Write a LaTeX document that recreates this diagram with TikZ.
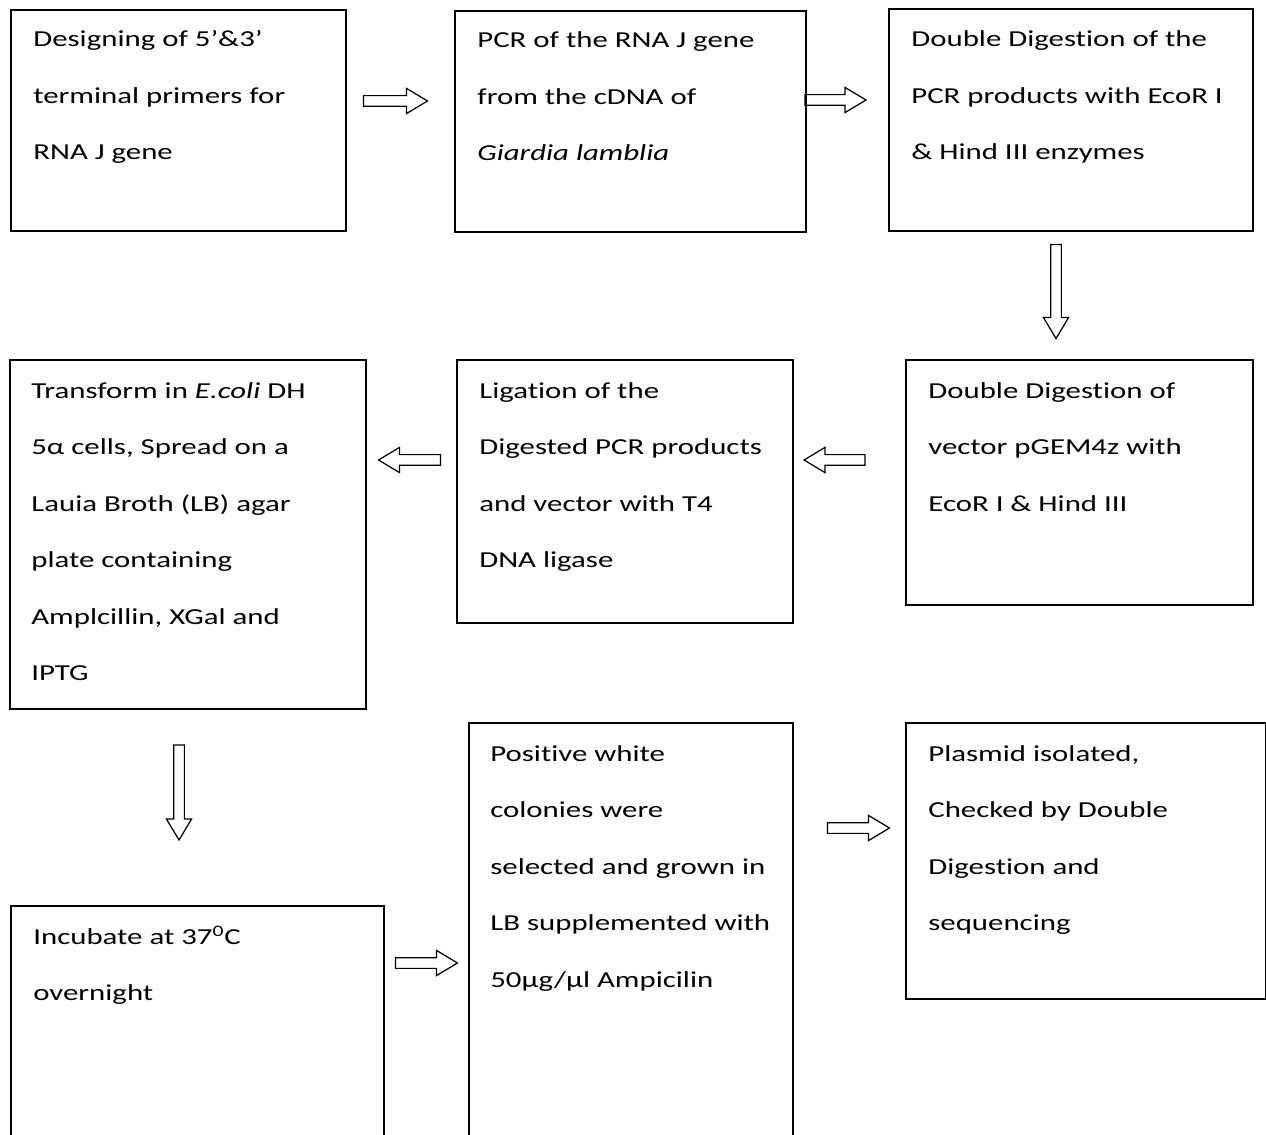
\documentclass[tikz,border=0pt]{standalone}
\usepackage{fontspec}
\setmainfont{Carlito}[FakeStretch=1.35, Ligatures={NoCommon}]
\usetikzlibrary{shapes.arrows}

\tikzset{
  stepbox/.style={draw, line width=1.1pt, anchor=north west, inner sep=0pt},
  steptext/.style={anchor=base west, align=left, inner sep=0pt,
    font=\fontsize{13}{32.15}\selectfont},
  blockarrow/.style={draw, line width=0.7pt, shape=single arrow, inner xsep=0pt,
    inner ysep=0.95mm, single arrow head extend=1.45mm, single arrow tip angle=62,
    single arrow head indent=0pt}
}

\begin{document}
\begin{tikzpicture}[x=0.2mm, y=-0.2mm]
\useasboundingbox (0,0) rectangle (1266,1135);

% boxes
\node[stepbox, minimum width=67mm, minimum height=44.2mm] (design) at (10,9) {};
\node[stepbox, minimum width=70.2mm, minimum height=44.2mm] (pcr) at (454,10) {};
\node[stepbox, minimum width=72.8mm, minimum height=44.4mm] (digpcr) at (888,8) {};
\node[stepbox, minimum width=69.4mm, minimum height=49mm] (digvec) at (905,359) {};
\node[stepbox, minimum width=67.2mm, minimum height=52.6mm] (ligate) at (456,359) {};
\node[stepbox, minimum width=71.2mm, minimum height=69.8mm] (transform) at (9,359) {};
\node[stepbox, minimum width=74.6mm, minimum height=50mm] (incubate) at (10,905) {};
\node[stepbox, minimum width=64.8mm, minimum height=86mm] (positive) at (468,722) {};
\node[stepbox, minimum width=72mm, minimum height=55.2mm] (plasmid) at (905,722) {};

% texts (placed at the baseline of their last line)
\node[steptext] (tdesign) at (33,160) {Designing of 5’\&3’\\terminal primers for\\RNA J gene};
\node[steptext] (tpcr) at (477,161) {PCR of the RNA J gene\\from the cDNA of\\\textit{Giardia lamblia}};
\node[steptext] (tdigpcr) at (911,160) {Double Digestion of the\\PCR products with EcoR I\\\& Hind III enzymes};
\node[steptext] (tdigvec) at (928,511) {Double Digestion of\\vector pGEM4z with\\EcoR I \& Hind III};
\node[steptext] (tligate) at (479,567.5) {Ligation of the\\Digested PCR products\\and vector with T4\\DNA ligase};
\node[steptext] (ttransform) at (31,680.5) {Transform in \textit{E.coli} DH\\5α cells, Spread on a\\Lauia Broth (LB) agar\\plate containing\\Amplcillin, XGal and\\IPTG};
\node[steptext] (tincubate) at (33,1000.5) {Incubate at 37\textsuperscript{0}C\\overnight};
\node[steptext] (tpositive) at (490,987) {Positive white\\colonies were\\selected and grown in\\LB supplemented with\\50µg/µl Ampicilin};
\node[steptext] (tplasmid) at (928,930.5) {Plasmid isolated,\\Checked by Double\\Digestion and\\sequencing};

% arrows
\node[blockarrow, minimum height=12.8mm] (a1) at (391,101) {};
\node[blockarrow, minimum height=12.2mm] (a2) at (831,100) {};
\node[blockarrow, minimum height=18.8mm, rotate=-90] (a3) at (1056,287) {};
\node[blockarrow, minimum height=12.2mm, rotate=180] (a4) at (839,460) {};
\node[blockarrow, minimum height=12.4mm, rotate=180] (a5) at (414,460) {};
\node[blockarrow, minimum height=19mm, rotate=-90] (a6) at (179,788) {};
\node[blockarrow, minimum height=12.4mm] (a7) at (422,963) {};
\node[blockarrow, minimum height=12.4mm] (a8) at (854,828) {};
\end{tikzpicture}
\end{document}
